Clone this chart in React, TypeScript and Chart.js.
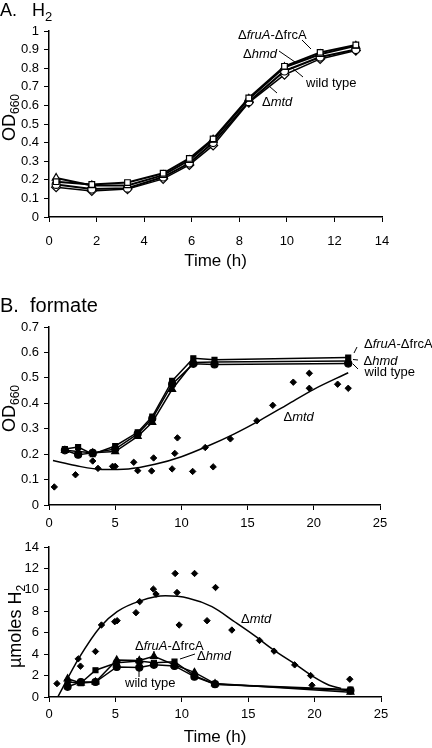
import React, { useEffect, useRef } from "react";
import { Chart, registerables } from "chart.js";

Chart.register(...registerables);

const FONT = '"Liberation Sans", Arial, Helvetica, sans-serif';

// ---------- Panel A: H2 growth (OD660) ----------
const timeA = [0.3, 1.8, 3.3, 4.8, 5.9, 6.9, 8.4, 9.9, 11.4, 12.9];
const odA_fruA = [0.19, 0.175, 0.185, 0.235, 0.315, 0.42, 0.64, 0.81, 0.885, 0.925];
const odA_hmd = [0.21, 0.17, 0.17, 0.225, 0.305, 0.415, 0.635, 0.805, 0.875, 0.92];
const odA_wt = [0.175, 0.15, 0.155, 0.215, 0.29, 0.4, 0.62, 0.785, 0.86, 0.9];
const odA_mtd = [0.16, 0.14, 0.15, 0.205, 0.28, 0.385, 0.615, 0.765, 0.85, 0.895];

// ---------- Panel B (top): formate growth (OD660) ----------
const timeB1 = [1.2, 2.2, 3.3, 5.0, 6.7, 7.8, 9.3, 10.9, 12.5, 22.6];
const odB_fruA = [0.22, 0.228, 0.2, 0.232, 0.286, 0.348, 0.488, 0.577, 0.571, 0.58];
const odB_hmd = [0.215, 0.21, 0.205, 0.21, 0.27, 0.325, 0.455, 0.56, 0.562, 0.566];
const odB_wt = [0.215, 0.198, 0.205, 0.22, 0.28, 0.34, 0.475, 0.555, 0.553, 0.556];
const mtdTimeB1 = [0.4, 2.0, 2.2, 3.3, 3.7, 4.8, 5.0, 6.4, 6.7, 7.75, 7.9, 9.3, 9.5, 9.7, 10.85, 11.8, 12.4, 13.7, 15.7, 16.9, 18.45, 19.66, 19.66, 21.8, 22.6];
const mtdOdB1 = [0.071, 0.119, 0.197, 0.173, 0.144, 0.152, 0.152, 0.168, 0.135, 0.134, 0.185, 0.142, 0.203, 0.264, 0.132, 0.226, 0.15, 0.26, 0.331, 0.392, 0.483, 0.518, 0.459, 0.475, 0.459];
const mtdTrendTimeB1 = [0.3, 2, 4, 6, 8, 10, 12, 14, 16, 18, 20, 22.6];
const mtdTrendOdB1 = [0.175, 0.155, 0.14, 0.142, 0.16, 0.19, 0.232, 0.28, 0.335, 0.395, 0.455, 0.52];

// ---------- Panel B (bottom): H2 produced (µmoles) ----------
const timeB2 = [1.4, 2.4, 3.5, 5.1, 6.8, 7.9, 9.45, 10.95, 12.5, 22.7];
const h2B_fruA = [1.7, 1.3, 1.4, 3.45, 3.4, 3.8, 3.0, 2.3, 1.25, 0.45];
const h2B_hmd = [1.4, 1.3, 2.5, 3.2, 3.35, 3.2, 3.3, 2.0, 1.2, 0.7];
const h2B_wt = [0.95, 1.4, 1.4, 2.8, 2.75, 3.0, 2.9, 1.9, 1.2, 0.6];
const mtdTimeB2 = [0.6, 2.2, 2.37, 3.5, 3.95, 4.95, 5.13, 6.55, 6.83, 7.86, 8.06, 9.5, 9.64, 9.8, 10.96, 11.9, 12.54, 13.77, 15.85, 16.95, 18.5, 19.7, 19.8, 22.65];
const mtdH2B2 = [1.25, 3.56, 2.88, 4.25, 6.72, 7.03, 7.12, 7.87, 8.9, 10.07, 9.6, 11.53, 9.75, 6.72, 11.53, 7.12, 10.22, 6.25, 5.28, 4.28, 3.0, 2.0, 1.1, 1.66];
const mtdTrendTimeB2 = [0.66, 2.24, 3.87, 5.13, 6.88, 8.76, 10.5, 12.27, 14.0, 15.4, 16.9, 18.66, 19.9, 21.1, 22.0];
const mtdTrendH2B2 = [0, 3.6, 6.56, 7.97, 8.97, 9.44, 9.22, 8.43, 7.0, 5.8, 4.4, 2.97, 1.9, 1.1, 0.8];

const pts = (xs: number[], ys: number[]) => xs.map((x, i) => ({ x, y: ys[i] }));

type Seg = [string, boolean];
const annotPlugin = {
  id: "annot",
  afterDraw(chart: any, _args: any, opts: any) {
    const ctx = chart.ctx as CanvasRenderingContext2D;
    const top = opts.top || 0;
    ctx.save();
    ctx.fillStyle = "#000";
    ctx.strokeStyle = "#000";
    ctx.lineWidth = 1;
    ctx.textBaseline = "middle";
    ctx.textAlign = "left";
    for (const n of opts.notes || []) {
      let x = n.x;
      for (const [t, it] of n.segs as Seg[]) {
        ctx.font = `${it ? "italic " : ""}13px ${FONT}`;
        ctx.fillText(t, x, n.y - top);
        x += ctx.measureText(t).width;
      }
      if (n.leader) {
        ctx.beginPath();
        ctx.moveTo(n.leader[0], n.leader[1] - top);
        ctx.lineTo(n.leader[2], n.leader[3] - top);
        ctx.stroke();
      }
    }
    const yt = opts.ytitle;
    if (yt) {
      ctx.translate(yt.x, yt.y - top);
      ctx.rotate(-Math.PI / 2);
      ctx.textBaseline = "alphabetic";
      let x = 0;
      for (const [t, sub] of yt.segs as Seg[]) {
        ctx.font = `${sub ? 12 : 18}px ${FONT}`;
        ctx.fillText(t, x, sub ? 4 : 0);
        x += ctx.measureText(t).width;
      }
    }
    ctx.restore();
  },
};

const D = "\u0394";
const NOTE_FRUA: Seg[] = [[D, false], ["fruA", true], ["-" + D + "frcA", false]];
const NOTE_HMD: Seg[] = [[D, false], ["hmd", true]];
const NOTE_MTD: Seg[] = [[D, false], ["mtd", true]];
const NOTE_WT: Seg[] = [["wild type", false]];

function lineDs(label: string, data: any[], style: string, open: boolean, r: number, w: number) {
  return {
    label,
    data,
    borderColor: "#000",
    borderWidth: w,
    pointStyle: style,
    pointRadius: r,
    pointBackgroundColor: open ? "#fff" : "#000",
    pointBorderColor: "#000",
    pointBorderWidth: 1.2,
    showLine: true,
    tension: 0,
  };
}

function axisX(max: number, step: number, height: number, tickPad: number, title?: string, titleBottom = 4) {
  return {
    type: "linear",
    min: 0,
    max,
    ticks: { stepSize: step, color: "#000", font: { family: FONT, size: 13 }, padding: tickPad },
    grid: { drawOnChartArea: false, drawTicks: true, tickLength: 5, color: "#000" },
    border: { display: true, color: "#000", width: 1.5 },
    title: title
      ? {
          display: true,
          text: title,
          color: "#000",
          font: { family: FONT, size: 17 },
          padding: { top: 4, bottom: titleBottom },
        }
      : { display: false },
    afterFit: (s: any) => {
      s.height = height;
    },
  };
}

function axisY(max: number, step: number) {
  return {
    min: 0,
    max,
    ticks: {
      stepSize: step,
      color: "#000",
      font: { family: FONT, size: 13 },
      padding: 5,
      callback: (v: number) => String(Math.round(v * 10) / 10),
    },
    grid: { drawOnChartArea: false, drawTicks: true, tickLength: 5, color: "#000" },
    border: { display: true, color: "#000", width: 1.5 },
    afterFit: (s: any) => {
      s.width = 49;
    },
  };
}

function useChart(ref: React.RefObject<HTMLCanvasElement>, make: () => any) {
  useEffect(() => {
    if (!ref.current) return;
    const ch = new Chart(ref.current, make());
    return () => ch.destroy();
  }, []);
}

const baseOpts = (padTop: number, padRight: number) => ({
  responsive: false,
  animation: false,
  layout: { padding: { top: padTop, right: padRight, left: 0, bottom: 0 } },
});

const trendDs = (xs: number[], ys: number[]) => ({
  label: "\u0394mtd trend",
  data: pts(xs, ys),
  showLine: true,
  pointRadius: 0,
  borderColor: "#000",
  borderWidth: 1.5,
  cubicInterpolationMode: "monotone",
});

const scatterDs = (xs: number[], ys: number[]) => ({
  label: "\u0394mtd",
  data: pts(xs, ys),
  pointStyle: "rectRot",
  pointRadius: 3.2,
  pointBackgroundColor: "#000",
  pointBorderColor: "#000",
  showLine: false,
});

export default function App() {
  const refA = useRef<HTMLCanvasElement>(null);
  const refB1 = useRef<HTMLCanvasElement>(null);
  const refB2 = useRef<HTMLCanvasElement>(null);

  const topA = 0, hA = 275;
  const topB1 = 270, hB1 = 265;
  const topB2 = 530, hB2 = 218;

  useChart(refA, () => ({
    type: "scatter",
    data: {
      datasets: [
        lineDs("\u0394fruA-\u0394frcA", pts(timeA, odA_fruA), "rect", true, 4, 2),
        lineDs("\u0394hmd", pts(timeA, odA_hmd), "triangle", true, 4.5, 2),
        lineDs("wild type", pts(timeA, odA_wt), "circle", true, 4, 2),
        lineDs("\u0394mtd", pts(timeA, odA_mtd), "rectRot", true, 4.5, 1.5),
      ],
    },
    options: {
      ...baseOpts(31, 50),
      scales: { x: axisX(14, 2, hA - 217, 12, "Time (h)", 3), y: axisY(1, 0.1) },
      plugins: {
        legend: { display: false },
        tooltip: { enabled: false },
        annot: {
          top: topA,
          ytitle: { x: 15, y: 141, segs: [["OD", false], ["660", true]] },
          notes: [
            { segs: NOTE_FRUA, x: 238, y: 35, leader: [302, 40, 311, 49] },
            { segs: NOTE_HMD, x: 243, y: 54, leader: [279, 51, 295, 62] },
            { segs: NOTE_WT, x: 306, y: 83.5, leader: [303, 77, 291, 67] },
            { segs: NOTE_MTD, x: 262, y: 102, leader: [277, 93, 269, 86] },
          ],
        },
      },
    },
    plugins: [annotPlugin],
  }));

  useChart(refB1, () => ({
    type: "scatter",
    data: {
      datasets: [
        lineDs("\u0394fruA-\u0394frcA", pts(timeB1, odB_fruA), "rect", false, 3.5, 1.5),
        lineDs("\u0394hmd", pts(timeB1, odB_hmd), "triangle", false, 4, 1.5),
        lineDs("wild type", pts(timeB1, odB_wt), "circle", false, 3.5, 1.5),
        scatterDs(mtdTimeB1, mtdOdB1),
        trendDs(mtdTrendTimeB1, mtdTrendOdB1),
      ],
    },
    options: {
      ...baseOpts(327 - topB1, 52),
      scales: { x: axisX(25, 5, topB1 + hB1 - 505, 6), y: axisY(0.7, 0.1) },
      plugins: {
        legend: { display: false },
        tooltip: { enabled: false },
        annot: {
          top: topB1,
          ytitle: { x: 15, y: 432, segs: [["OD", false], ["660", true]] },
          notes: [
            { segs: NOTE_FRUA, x: 364, y: 344, leader: [357, 347, 354, 353] },
            { segs: NOTE_HMD, x: 363.5, y: 361, leader: [353, 359.5, 358, 360] },
            { segs: NOTE_WT, x: 364.5, y: 372, leader: [353, 364, 358, 369] },
            { segs: NOTE_MTD, x: 283.5, y: 417 },
          ],
        },
      },
    },
    plugins: [annotPlugin],
  }));

  useChart(refB2, () => ({
    type: "scatter",
    data: {
      datasets: [
        lineDs("\u0394fruA-\u0394frcA", pts(timeB2, h2B_fruA), "triangle", false, 4, 1.5),
        lineDs("\u0394hmd", pts(timeB2, h2B_hmd), "rect", false, 3.5, 1.5),
        lineDs("wild type", pts(timeB2, h2B_wt), "circle", false, 3.5, 1.5),
        scatterDs(mtdTimeB2, mtdH2B2),
        trendDs(mtdTrendTimeB2, mtdTrendH2B2),
      ],
    },
    options: {
      ...baseOpts(547 - topB2, 51),
      scales: { x: axisX(25, 5, topB2 + hB2 - 697, 5, "Time (h)", 0), y: axisY(14, 2) },
      plugins: {
        legend: { display: false },
        tooltip: { enabled: false },
        annot: {
          top: topB2,
          ytitle: { x: 21, y: 668, segs: [["\u00b5moles H", false], ["2", true]] },
          notes: [
            { segs: NOTE_MTD, x: 241, y: 619 },
            { segs: NOTE_FRUA, x: 135, y: 646, leader: [154, 651, 154, 657] },
            { segs: NOTE_HMD, x: 197, y: 656.5, leader: [180, 659, 195, 654] },
            { segs: NOTE_WT, x: 125, y: 683, leader: [139, 670, 139, 677] },
          ],
        },
      },
    },
    plugins: [annotPlugin],
  }));

  const titleStyle: React.CSSProperties = {
    position: "absolute",
    left: 0,
    fontFamily: FONT,
    color: "#000",
    whiteSpace: "pre",
    margin: 0,
  };
  const canvasStyle = (top: number, h: number): React.CSSProperties => ({
    position: "absolute",
    left: 0,
    top,
    width: 432,
    height: h,
  });

  return (
    <div style={{ position: "absolute", left: 0, top: 0, width: 432, height: 748, background: "#fff", overflow: "hidden" }}>
      <canvas ref={refA} width={432} height={hA} style={canvasStyle(topA, hA)} />
      <canvas ref={refB1} width={432} height={hB1} style={canvasStyle(topB1, hB1)} />
      <canvas ref={refB2} width={432} height={hB2} style={canvasStyle(topB2, hB2)} />
      <div style={{ ...titleStyle, top: 0, fontSize: 18, lineHeight: "21px" }}>
        {"A.   H"}
        <span style={{ fontSize: 13, position: "relative", top: 5 }}>2</span>
      </div>
      <div style={{ ...titleStyle, top: 293, fontSize: 20, lineHeight: "24px" }}>{"B.  formate"}</div>
    </div>
  );
}
